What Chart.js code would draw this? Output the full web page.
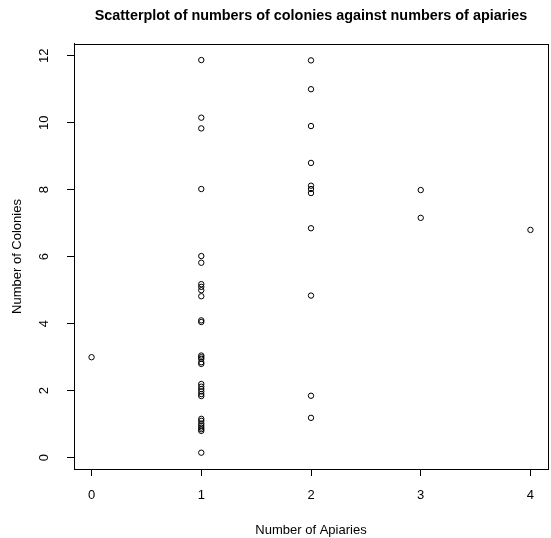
<!DOCTYPE html>
<html>
<head>
<meta charset="utf-8">
<script src="https://cdn.jsdelivr.net/npm/chart.js@4"></script>
<style>
    body { margin: 0; background: #fff; }
    canvas { display: block; }
</style>
</head>
<body>
<canvas id="chart" width="551" height="538"></canvas>
<script>
// numero de apiarios (x) y numero de colonias (y), un punto por registro
const apiaries = [
    0,
    1, 1, 1, 1, 1, 1, 1, 1, 1, 1, 1, 1, 1, 1, 1, 1, 1,
    1, 1, 1, 1, 1, 1, 1, 1, 1, 1, 1, 1, 1, 1,
    2, 2, 2, 2, 2, 2, 2, 2, 2, 2, 2,
    3, 3,
    4
];
const colonies = [
    3.0,
    11.87, 10.15, 9.83, 8.02, 6.02, 5.82, 5.18, 5.1, 5.0, 4.82, 4.1, 4.05, 3.05, 3.0, 2.95, 2.85, 2.8,
    2.2, 2.12, 2.05, 1.98, 1.9, 1.84, 1.16, 1.1, 1.02, 0.96, 0.9, 0.85, 0.8, 0.15,
    11.86, 11.0, 9.9, 8.8, 8.12, 8.02, 7.9, 6.85, 4.84, 1.85, 1.19,
    7.99, 7.16,
    6.8
];
const xTicks = [0, 1, 2, 3, 4];
const yTicks = [0, 2, 4, 6, 8, 10, 12];

const FONT = "'Liberation Sans', Arial, sans-serif";

// caja completa alrededor del area de trazado (estilo R)
const boxPlugin = {
    id: 'box',
    afterDraw(chart) {
        const a = chart.chartArea;
        const ctx = chart.ctx;
        ctx.save();
        ctx.strokeStyle = '#000';
        ctx.lineWidth = 1;
        ctx.strokeRect(Math.round(a.left) + 0.5, Math.round(a.top) + 0.5,
            Math.round(a.right - a.left), Math.round(a.bottom - a.top));
        ctx.restore();
    }
};

const points = apiaries.map((x, i) => ({x: x, y: colonies[i]}));

new Chart(document.getElementById('chart').getContext('2d'), {
    type: 'scatter',
    data: {
        datasets: [{
            data: points,
            pointStyle: 'circle',
            pointRadius: 2.7,
            borderWidth: 1,
            borderColor: '#000',
            backgroundColor: 'rgba(0,0,0,0)'
        }]
    },
    plugins: [boxPlugin],
    options: {
        responsive: false,
        animation: false,
        layout: {autoPadding: false, padding: {top: 0, right: 3, bottom: 0, left: 0}},
        plugins: {
            legend: {display: false},
            tooltip: {enabled: false},
            title: {
                display: true,
                fullSize: false,
                text: 'Scatterplot of numbers of colonies against numbers of apiaries',
                color: '#000',
                font: {family: FONT, size: 14.4, weight: 'bold', lineHeight: 1.2},
                padding: {top: 7, bottom: 19.7}
            }
        },
        scales: {
            x: {
                type: 'linear',
                min: -0.16,
                max: 4.16,
                afterBuildTicks: s => { s.ticks = xTicks.map(v => ({value: v})); },
                afterFit: s => { s.height = 69; s.paddingLeft = 0; s.paddingRight = 0; },
                ticks: {
                    color: '#000',
                    font: {family: FONT, size: 13},
                    padding: 12,
                    maxRotation: 0
                },
                grid: {drawOnChartArea: false, drawTicks: true, tickLength: 7, color: '#000'},
                border: {display: true, color: '#000'},
                title: {
                    display: true,
                    text: 'Number of Apiaries',
                    color: '#000',
                    font: {family: FONT, size: 13, lineHeight: 1.2},
                    padding: {top: 0, bottom: 0}
                }
            },
            y: {
                type: 'linear',
                min: -0.337,
                max: 12.35,
                afterBuildTicks: s => { s.ticks = yTicks.map(v => ({value: v})); },
                afterFit: s => { s.width = 74; s.paddingTop = 0; s.paddingBottom = 0; },
                ticks: {
                    color: '#000',
                    font: {family: FONT, size: 13},
                    padding: 15,
                    minRotation: 90,
                    maxRotation: 90,
                    crossAlign: 'center'
                },
                grid: {drawOnChartArea: false, drawTicks: true, tickLength: 7, color: '#000'},
                border: {display: true, color: '#000'},
                title: {
                    display: true,
                    text: 'Number of Colonies',
                    color: '#000',
                    font: {family: FONT, size: 13, lineHeight: 1.2},
                    padding: {top: 9.2, bottom: 0}
                }
            }
        }
    }
});
</script>
</body>
</html>
